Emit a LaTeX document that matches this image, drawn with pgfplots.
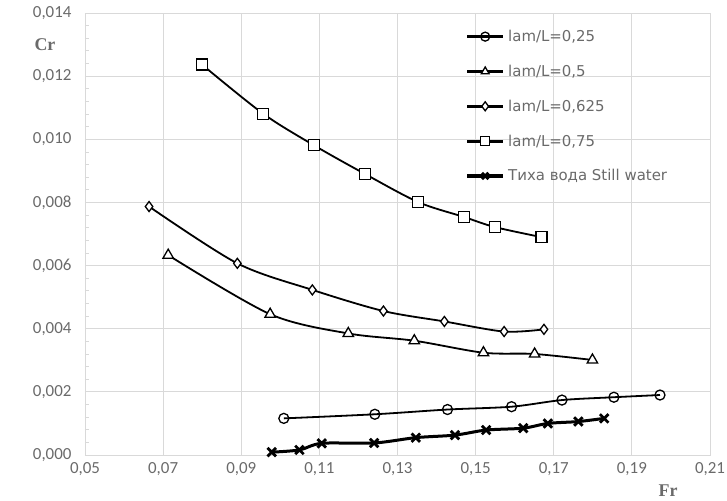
\documentclass[border=0pt]{standalone}
\usepackage{pgfplots}
\pgfplotsset{compat=1.18}
\usepackage{pgfplotstable}
\usepackage{fontspec}
\setmainfont{Carlito}
\newfontfamily\serifb{Liberation Serif}
\newfontfamily\legfont{DejaVu Sans}
\definecolor{txt}{HTML}{6A6A6A}
\definecolor{grd}{HTML}{D9D9D9}

\pgfplotstableread{
x y
0.1009 0.00116
0.1242 0.00129
0.1428 0.00144
0.1592 0.00153
0.1721 0.00174
0.1854 0.00183
0.1972 0.00190
}\tabA
\pgfplotstableread{
x y
0.0713 0.00633
0.0974 0.00446
0.1174 0.00385
0.1343 0.00362
0.1520 0.00324
0.1651 0.00320
0.1799 0.00301
}\tabB
\pgfplotstableread{
x y
0.0664 0.00787
0.0890 0.00607
0.1082 0.00523
0.1264 0.00456
0.1420 0.00423
0.1573 0.00391
0.1675 0.00398
}\tabC
\pgfplotstableread{
x y
0.0799 0.01237
0.0956 0.01081
0.1086 0.00981
0.1217 0.00890
0.1353 0.00801
0.1470 0.00754
0.1549 0.00722
0.1669 0.00690
}\tabD
\pgfplotstableread{
x y
0.0978 0.00009
0.1049 0.00016
0.1106 0.00037
0.1240 0.00038
0.1347 0.00055
0.1447 0.00063
0.1527 0.00079
0.1622 0.00085
0.1685 0.00100
0.1763 0.00106
0.1829 0.00116
}\tabE

\begin{document}
\begin{tikzpicture}
\useasboundingbox (-85bp,-46bp) rectangle (642bp,455bp);
\begin{axis}[
  at={(0,0)}, anchor=south west,
  scale only axis, width=625bp, height=442bp,
  xmin=0.05, xmax=0.21, ymin=0, ymax=0.014,
  clip=false,
  xtick={0.05,0.07,...,0.211},
  ytick={0,0.002,...,0.0141},
  minor y tick num=4,
  scaled ticks=false,
  grid=major,
  major grid style={grd, line width=0.8bp},
  axis line style={grd, line width=0.8bp},
  major tick length=0pt,
  minor tick length=4bp,
  minor tick style={grd, line width=0.8bp},
  tick align=inside,
  xtick pos=bottom, ytick pos=left,
  ticklabel style={font=\fontsize{17}{19}\selectfont, text=txt},
  /pgf/number format/assume math mode=true,
  xticklabel={\pgfmathprintnumber[fixed, fixed zerofill, precision=2, use comma]{\tick}},
  yticklabel={\pgfmathprintnumber[fixed, fixed zerofill, precision=3, use comma]{\tick}},
  yticklabel style={xshift=-10bp},
  xticklabel style={yshift=-4bp},
  legend cell align=left,
  legend style={draw=none, fill=none, at={(0.608,0.966)}, anchor=north west,
    font=\legfont\fontsize{15}{17}\selectfont, text=txt, row sep=18bp, inner sep=0pt,
    nodes={inner xsep=3bp}},
  legend image code/.code={
    \draw[#1, mark=none, sharp plot, line width=\pgflinewidth+0.5bp] (0bp,0bp) -- (36bp,0bp);
    \draw[#1, only marks, mark size=4.5bp] plot coordinates {(18bp,0bp)};},
]
\addplot[black, line width=1.8bp, smooth, tension=0.5, mark=o, mark size=5bp, mark options={fill=white, line width=1.3bp, solid}] table {\tabA};
\addlegendentry{lam/L=0,25}
\addplot[black, line width=1.8bp, smooth, tension=0.5, mark=triangle*, mark size=6bp, mark options={fill=white, line width=1.3bp}] table {\tabB};
\addlegendentry{lam/L=0,5}
\addplot[black, line width=1.8bp, smooth, tension=0.5, mark=diamond*, mark size=5bp, mark options={fill=white, line width=1.3bp}] table {\tabC};
\addlegendentry{lam/L=0,625}
\addplot[black, line width=1.8bp, smooth, tension=0.5, mark=square*, mark size=5.5bp, mark options={fill=white, line width=1.3bp}] table {\tabD};
\addlegendentry{lam/L=0,75}
\addplot[black, line width=3bp, smooth, tension=0.5, mark=x, mark size=6bp, mark options={line width=2.8bp}] table {\tabE};
\addlegendentry{Тиха вода Still water}
\node[inner sep=0pt, font=\serifb\bfseries\fontsize{18}{20}\selectfont, text=txt] at (rel axis cs:-0.064,0.928) {Cr};
\node[inner sep=0pt, font=\serifb\bfseries\fontsize{18}{20}\selectfont, text=txt] at (rel axis cs:0.933,-0.08) {Fr};
\end{axis}
\end{tikzpicture}
\end{document}
